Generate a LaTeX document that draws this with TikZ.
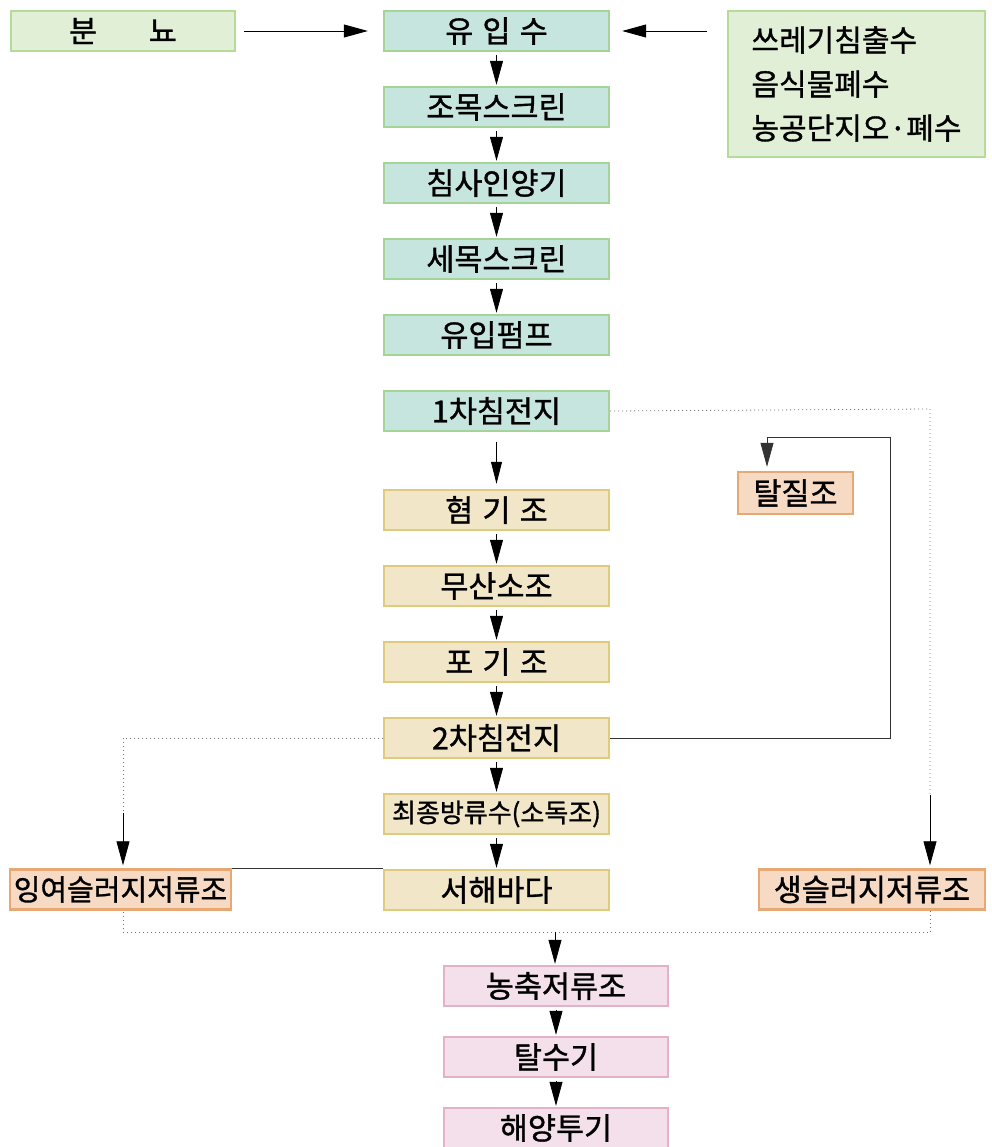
\documentclass[tikz,border=0pt]{standalone}
\usepackage{fontspec}
\newfontfamily\kr[FakeBold=1.1]{Noto Sans CJK KR}
\usetikzlibrary{arrows.meta}
\definecolor{tealfill}{HTML}{C6E5DF}
\definecolor{tealline}{HTML}{A5D498}
\definecolor{greenfill}{HTML}{E2EFD7}
\definecolor{greenline}{HTML}{B4DB98}
\definecolor{yelfill}{HTML}{F2E6C8}
\definecolor{yelline}{HTML}{E0CA7C}
\definecolor{orfill}{HTML}{F6DAC3}
\definecolor{orline}{HTML}{E8A874}
\definecolor{pkfill}{HTML}{F3E0EA}
\definecolor{pkline}{HTML}{E4B2C8}
\tikzset{
  box/.style={draw, line width=2.4pt, minimum width=225pt, minimum height=40pt, inner sep=0pt,
    font=\kr\fontsize{30.5}{32}\selectfont},
  tealbox/.style={box, fill=tealfill, draw=tealline},
  greenbox/.style={box, fill=greenfill, draw=greenline},
  yelbox/.style={box, fill=yelfill, draw=yelline},
  orbox/.style={box, fill=orfill, draw=orline},
  pkbox/.style={box, fill=pkfill, draw=pkline},
  arr/.style={-{Triangle[length=24pt,width=13pt]}, line width=0.8pt, draw=black},
  smallarr/.style={-{Triangle[length=22pt,width=11pt]}, line width=0.8pt, draw=black},
  conn/.style={line width=0.8pt, draw=black!80},
  dots/.style={line width=0.8pt, draw=black!55, dash pattern=on 0.8pt off 3.2pt},
}
\begin{document}
\begin{tikzpicture}[x=1pt,y=-1pt]
\useasboundingbox (0,0) rectangle (991,1147);
% left/right inputs
\node[greenbox, minimum width=224pt] (bn) at (123,31) {분\hspace{1.7em}뇨};
\node[greenbox, minimum width=257pt, minimum height=146pt, align=left,
  font=\kr\fontsize{30}{44}\selectfont] (src) at (856.5,84) {쓰레기침출수\\음식물폐수\\농공단지오·폐수};
% main column
\node[tealbox] (n1) at (496.5,31) {유\hspace{0.3em}입\hspace{0.3em}수};
\node[tealbox] (n2) at (496.5,107) {조목스크린};
\node[tealbox] (n3) at (496.5,183) {침사인양기};
\node[tealbox] (n4) at (496.5,259) {세목스크린};
\node[tealbox] (n5) at (496.5,335) {유입펌프};
\node[tealbox] (n6) at (496.5,411) {1차침전지};
\node[yelbox] (n7) at (496.5,510) {혐\hspace{0.3em}기\hspace{0.3em}조};
\node[yelbox] (n8) at (496.5,586) {무산소조};
\node[yelbox] (n9) at (496.5,662) {포\hspace{0.3em}기\hspace{0.3em}조};
\node[yelbox] (n10) at (496.5,738) {2차침전지};
\node[yelbox, font=\kr\fontsize{26}{28}\selectfont] (n11) at (496.5,814) {최종방류수(소독조)};
\node[yelbox] (n12) at (496.5,890) {서해바다};
% side tanks
\node[orbox, minimum width=115pt, minimum height=42pt] (tj) at (795.5,493) {탈질조};
\node[orbox, minimum width=226pt] (sg) at (872,889.5) {생슬러지저류조};
\node[orbox, minimum width=221pt, font=\kr\fontsize{29}{32}\selectfont] (ing) at (120.5,889.5) {잉여슬러지저류조};
% sludge line
\node[pkbox, minimum width=224pt] (nc) at (556,986) {농축저류조};
\node[pkbox, minimum width=224pt] (ts) at (556,1057) {탈수기};
\node[pkbox, minimum width=224pt] (hy) at (556,1128) {해양투기};
% coordinates
\coordinate (rTop) at (890,437);
\coordinate (tjIn) at (767,437);
\coordinate (d1) at (930,409);
\coordinate (d2) at (930,795);
\coordinate (d3) at (123,738);
\coordinate (d4) at (123,813);
\coordinate (b1) at (930,932);
\coordinate (b2) at (123,932);
\coordinate (b3) at (555,932);
% input arrows
\draw[arr, shorten <=8pt, shorten >=15pt] (bn.east) -- (n1.west);
\draw[arr, shorten <=20pt, shorten >=12pt] (src.west |- n1.east) -- (n1.east);
% main vertical arrows
\foreach \a/\b in {n1/n2,n2/n3,n3/n4,n4/n5,n7/n8,n8/n9,n9/n10,n10/n11,n11/n12,nc/ts,ts/hy}
  \draw[arr, shorten <=3pt, shorten >=1pt] (\a.south) -- (\b.north);
\draw[smallarr, shorten <=10pt, shorten >=5pt] (n6.south) -- (n7.north);
% return to denitrification
\draw[arr, draw=black!80, shorten >=4pt] (n10.east) -| (rTop) -- (tjIn) -- (tjIn |- tj.north);
% primary sludge
\draw[dots] (n6.east) -- (d1) -- (d2);
\draw[arr, shorten >=3pt] (d2) -- (d2 |- sg.north);
% excess sludge
\draw[dots] (n10.west) -- (d3) -- (d4);
\draw[arr, shorten >=3pt] (d4) -- (d4 |- ing.north);
% link line
\draw[conn] (ing.north east) -- (ing.north east -| n12.west);
% collection to thickener
\draw[dots] (b1 |- sg.south) -- (b1) -- (b2) -- (b2 |- ing.south);
\draw[arr, shorten >=1pt] (b3) -- (b3 |- nc.north);
\end{tikzpicture}
\end{document}
